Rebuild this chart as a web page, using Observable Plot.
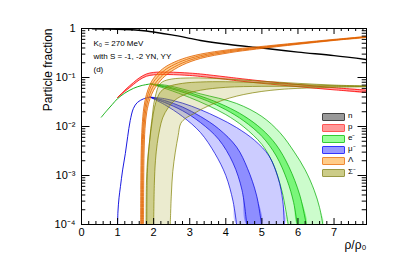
<!DOCTYPE html>
<html><head><meta charset="utf-8">
<script src="https://cdn.jsdelivr.net/npm/d3@7"></script>
<script src="https://cdn.jsdelivr.net/npm/@observablehq/plot@0.6"></script>
<style>
body{margin:0;background:#fff;}
#wrap{position:relative;width:407px;height:264px;font-family:"Liberation Sans",Arial,sans-serif;}
.lg{position:absolute;left:322px;width:21px;height:6px;}
.lt{position:absolute;left:348px;font-size:8px;line-height:8px;}
</style></head>
<body><div id="wrap"></div>
<script>
// ---- data: [density rho/rho0, particle fraction] ----
const nCurve = [[0.3,0.985],[1,0.965],[1.5,0.93],[1.8,0.89],[2,0.85],[2.5,0.74],[3,0.63],[3.3,0.57],[4.1,0.47],[5,0.40],[6,0.33],[7,0.28],[7.9,0.233]];
const pHi = [[1.0,0.039],[1.2,0.055],[1.44,0.079],[1.6,0.098],[1.8,0.118],[2.0,0.127],[2.4,0.129],[3.0,0.123],[3.3,0.118],[4.0,0.103],[4.3,0.097],[5,0.085],[6,0.072],[7,0.062],[7.9,0.055]];
const pLo = [[1.0,0.039],[1.2,0.052],[1.44,0.072],[1.6,0.089],[1.8,0.106],[2.0,0.113],[2.4,0.115],[3.0,0.11],[3.3,0.105],[4.0,0.092],[4.3,0.086],[5,0.076],[6,0.065],[7,0.056],[7.9,0.05]];
const eRise = [[0.55,0.0155],[0.7,0.021],[0.85,0.028],[1.0,0.037],[1.2,0.048],[1.44,0.06],[1.65,0.068],[1.91,0.074]];
const eOuterHi = [[1.91,0.074],[2.37,0.069],[3.29,0.0465],[4.3,0.0295],[5.0,0.016],[5.5,0.0075],[5.9,0.003],[6.2,0.0013],[6.45,0.0005],[6.6,0.00022],[6.69,0.0001]];
const eOuterLo = [[1.91,0.074],[2.37,0.058],[3.0,0.039],[3.5,0.027],[4.0,0.0175],[4.5,0.0098],[5.0,0.0043],[5.3,0.0018],[5.55,0.0005],[5.66,0.0002],[5.73,0.0001]];
const eInnerHi = [[1.91,0.074],[2.37,0.065],[3.0,0.049],[3.5,0.037],[4.0,0.026],[4.5,0.0165],[5.0,0.0088],[5.4,0.0042],[5.75,0.0015],[6.05,0.0004],[6.23,0.0001]];
const eInnerLo = [[1.91,0.074],[2.37,0.062],[3.0,0.045],[3.5,0.033],[4.0,0.022],[4.5,0.013],[5.0,0.0063],[5.4,0.0025],[5.7,0.0008],[5.88,0.00028],[5.98,0.0001]];
const muRise = [[1.0,0.0001],[1.01,0.00018],[1.04,0.00035],[1.08,0.0006],[1.14,0.0013],[1.215,0.0028],[1.28,0.0062],[1.35,0.0132],[1.44,0.0235],[1.55,0.031],[1.72,0.0367],[1.9,0.0397]];
const muOuterHi = [[1.9,0.0397],[2.3,0.037],[2.8,0.03],[3.3,0.022],[3.8,0.015],[4.3,0.0095],[4.8,0.0052],[5.2,0.0025],[5.45,0.0009],[5.58,0.0003],[5.62,0.0001]];
const muOuterLo = [[1.9,0.0397],[2.3,0.028],[2.8,0.016],[3.3,0.0075],[3.7,0.0028],[4.0,0.001],[4.2,0.0003],[4.3,0.0001]];
const muInnerHi = [[1.9,0.0397],[2.3,0.034],[2.8,0.025],[3.3,0.016],[3.8,0.009],[4.3,0.0038],[4.6,0.0014],[4.85,0.0004],[4.99,0.0001]];
const muInnerLo = [[1.9,0.0397],[2.3,0.031],[2.8,0.021],[3.3,0.012],[3.8,0.0055],[4.2,0.0018],[4.45,0.0005],[4.58,0.0001]];
const lamA = [[1.64,0.0001],[1.645,0.0008],[1.655,0.003],[1.68,0.01],[1.73,0.025],[1.8,0.045],[1.9,0.072],[2.0,0.097],[2.2,0.14],[2.4,0.178],[2.8,0.24],[3.3,0.30],[4.1,0.37],[4.85,0.42],[6.0,0.51],[7.0,0.6],[7.9,0.685]];
const lamB = [[1.665,0.0001],[1.67,0.0008],[1.68,0.003],[1.705,0.0095],[1.755,0.023],[1.83,0.042],[1.93,0.067],[2.0,0.082],[2.2,0.121],[2.4,0.157],[2.8,0.218],[3.3,0.28],[4.1,0.353],[4.85,0.405],[6.0,0.497],[7.0,0.588],[7.9,0.677]];
const lamC = [[1.69,0.0001],[1.695,0.0008],[1.705,0.003],[1.73,0.0093],[1.78,0.021],[1.86,0.039],[1.95,0.058],[2.0,0.068],[2.2,0.104],[2.4,0.138],[2.8,0.198],[3.3,0.262],[4.1,0.336],[4.85,0.392],[6.0,0.486],[7.0,0.579],[7.9,0.668]];
const lamD = [[1.72,0.0001],[1.725,0.0008],[1.735,0.003],[1.76,0.009],[1.81,0.02],[1.9,0.037],[2.0,0.055],[2.2,0.088],[2.4,0.12],[2.8,0.18],[3.3,0.245],[4.1,0.32],[4.85,0.38],[6.0,0.475],[7.0,0.57],[7.9,0.66]];
const sigOuterHi = [[1.79,0.0001],[1.8,0.0007],[1.83,0.002],[1.88,0.0045],[1.92,0.009],[1.97,0.018],[2.0,0.028],[2.07,0.048],[2.14,0.068],[2.25,0.082],[2.5,0.093],[3.0,0.098],[3.5,0.097],[4.0,0.093],[5,0.084],[6,0.076],[7,0.07],[7.9,0.067]];
const sigOuterLo = [[2.46,0.0001],[2.49,0.0004],[2.53,0.0012],[2.6,0.003],[2.68,0.0065],[2.75,0.0115],[2.9,0.015],[3.1,0.018],[3.3,0.022],[3.7,0.03],[4.1,0.038],[4.5,0.045],[5,0.052],[5.5,0.057],[6,0.06],[7,0.063],[7.9,0.065]];
const sigInnerHi = [[1.81,0.0001],[1.82,0.0008],[1.85,0.0025],[1.9,0.006],[1.96,0.013],[2.02,0.024],[2.1,0.038],[2.2,0.052],[2.4,0.065],[2.8,0.076],[3.3,0.081],[4,0.082],[5,0.078],[6,0.072],[7,0.068],[7.9,0.066]];
const sigInnerLo = [[2.0,0.0001],[2.02,0.0007],[2.05,0.002],[2.1,0.0045],[2.17,0.009],[2.25,0.015],[2.4,0.024],[2.6,0.035],[2.9,0.046],[3.3,0.055],[4,0.063],[5,0.066],[6,0.066],[7,0.066],[7.9,0.066]];

const xMajor = [0,1,2,3,4,5,6,7];
const yMajor = [1e-4,1e-3,1e-2,1e-1,1];
const legendLabels = ["n","p","e⁻","μ⁻","Λ","Σ⁻"];
const legendFill = ["#999999","#ff9999","#99ff99","#9999ff","#ffcc88","#cccc88"];
const legendStroke = ["#444444","#ff5555","#33cc33","#3333ff","#ee8833","#999944"];
const notes = ["K₀ = 270 MeV","with S = -1, -2 YN, YY","(d)"];

// ---- helpers ----
const xMinor = d3.range(0, 7.81, 0.2).map(v => +v.toFixed(1)).filter(v => !xMajor.includes(v));
const yMinor = yMajor.slice(0, -1).flatMap(d => d3.range(2, 10).map(k => d * k));
const band = (hi, lo) => hi.concat(lo.slice().reverse());
const sup = {"-":"⁻","1":"¹","2":"²","3":"³","4":"⁴"};
const fmtY = d => d === 1 ? "1" : "10" + String(Math.round(Math.log10(d))).split("").map(c => sup[c]).join("");
const W = 407, H = 264, mL = 81, mR = 41, mT = 28, mB = 40;
const pw = W - mL - mR, ph = H - mT - mB;
const curve = "catmull-rom";
const fillM = (pts, fill, op) => Plot.line(pts, {x: d => d[0], y: d => d[1], fill, fillOpacity: op, stroke: "none", curve, clip: true});
const lineM = (pts, stroke, sw = 0.7) => Plot.line(pts, {x: d => d[0], y: d => d[1], stroke, strokeWidth: sw, curve, clip: true});

const marks = [
  // n
  lineM(nCurve, "black", 1.4),
  // p
  fillM(band(pHi, pLo), "#ff0000", 0.35), lineM(pHi, "#ff0000", 0.8), lineM(pLo, "#ff0000", 0.8),
  // e
  fillM(band(eOuterHi, eOuterLo), "#00ee00", 0.2), fillM(band(eInnerHi, eInnerLo), "#00ee00", 0.4),
  lineM(eRise, "#00aa00", 0.9), lineM(eOuterHi, "#00aa00"), lineM(eOuterLo, "#00aa00"), lineM(eInnerHi, "#00aa00"), lineM(eInnerLo, "#00aa00"),
  // mu
  fillM(band(muOuterHi, muOuterLo), "#0000ff", 0.2), fillM(band(muInnerHi, muInnerLo), "#0000ff", 0.3),
  lineM(muRise, "#0000dd", 0.9), lineM(muOuterHi, "#0000dd"), lineM(muOuterLo, "#0000dd"), lineM(muInnerHi, "#0000dd"), lineM(muInnerLo, "#0000dd"),
  // Lambda
  fillM(band(lamA, lamD), "#ff9911", 0.45),
  lineM(lamA, "#e06000", 0.8), lineM(lamB, "#e06000", 0.8), lineM(lamC, "#e06000", 0.8), lineM(lamD, "#e06000", 0.8),
  // Sigma-
  fillM(band(sigOuterHi, sigOuterLo), "#999911", 0.2), fillM(band(sigInnerHi, sigInnerLo), "#999911", 0.35),
  lineM(sigOuterHi, "#808000"), lineM(sigOuterLo, "#808000"), lineM(sigInnerHi, "#808000"), lineM(sigInnerLo, "#808000"),
  // ticks (inward, all four sides)
  Plot.tickX(xMajor, {x: d => d, insetTop: ph - 6, stroke: "black"}),
  Plot.tickX(xMinor, {x: d => d, insetTop: ph - 3, stroke: "black"}),
  Plot.tickX(xMajor, {x: d => d, insetBottom: ph - 6, stroke: "black"}),
  Plot.tickX(xMinor, {x: d => d, insetBottom: ph - 3, stroke: "black"}),
  Plot.tickY(yMajor, {y: d => d, insetRight: pw - 8.5, stroke: "black"}),
  Plot.tickY(yMinor, {y: d => d, insetRight: pw - 4.3, stroke: "black"}),
  Plot.tickY(yMajor, {y: d => d, insetLeft: pw - 8.5, stroke: "black"}),
  Plot.tickY(yMinor, {y: d => d, insetLeft: pw - 4.3, stroke: "black"}),
  Plot.frame({stroke: "black", strokeWidth: 1}),
  // annotations
  ...notes.map((t, i) => Plot.text([t], {frameAnchor: "top-left", text: d => d, dx: 12, dy: 12 + i * 13, textAnchor: "start", fontSize: 8})),
  Plot.text(["Particle fraction"], {frameAnchor: "top-left", text: d => d, rotate: -90, textAnchor: "end", dx: -38, dy: 0, fontSize: 12}),
  Plot.text(["ρ/ρ₀"], {frameAnchor: "bottom-right", text: d => d, textAnchor: "end", dx: 0, dy: 24, fontSize: 12})
];

const chart = Plot.plot({
  width: W, height: H,
  marginLeft: mL, marginRight: mR, marginTop: mT, marginBottom: mB,
  style: {fontFamily: "Liberation Sans, Arial, sans-serif", fontSize: "11px", background: "white", color: "black"},
  x: {domain: [0, 7.9], ticks: xMajor, tickFormat: d => String(d), tickSize: 0, tickPadding: 4, label: null},
  y: {type: "log", domain: [1e-4, 1], ticks: yMajor, tickFormat: fmtY, tickSize: 0, tickPadding: 6, label: null},
  marks
});
const wrap = document.getElementById("wrap");
wrap.appendChild(chart);
legendLabels.forEach((l, i) => {
  const b = document.createElement("div");
  b.className = "lg";
  b.style.top = (113 + i * 11.1) + "px";
  b.style.background = legendFill[i];
  b.style.border = "1px solid " + legendStroke[i];
  b.style.borderRadius = "1px";
  wrap.appendChild(b);
  const t = document.createElement("div");
  t.className = "lt";
  t.style.top = (112 + i * 11.1) + "px";
  t.textContent = l;
  wrap.appendChild(t);
});
</script>
</body></html>
